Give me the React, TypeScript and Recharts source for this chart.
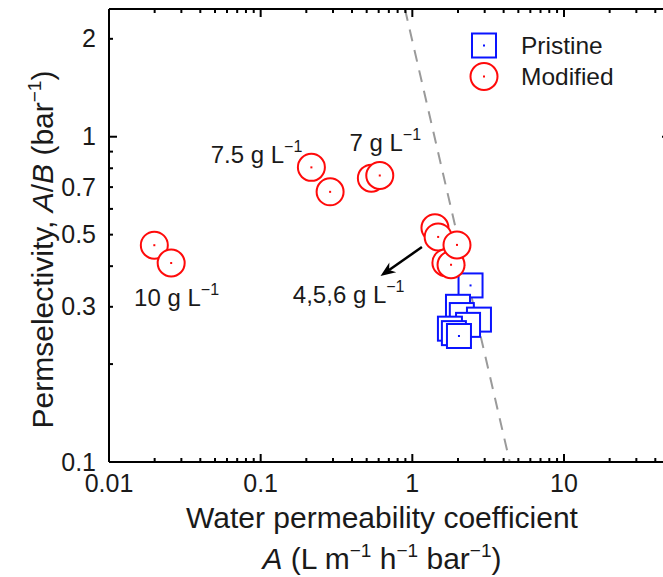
import React from 'react';
import { ScatterChart, Scatter, XAxis, YAxis, ReferenceLine, Legend } from 'recharts';

const FONT = '"Liberation Sans", Arial, Helvetica, sans-serif';
const TEXT = '#1a1a1a';
const BLUE = '#0a14ff';
const RED = '#ff0a0a';

// ---- data ----
const seriesNames = ['Pristine', 'Modified'];

const pristineA = [2.42, 2.0, 2.12, 2.75, 2.33, 1.77, 1.88, 2.03];
const pristineAB = [0.349, 0.3, 0.283, 0.274, 0.264, 0.257, 0.249, 0.244];

const modifiedA = [0.0199, 0.0257, 0.216, 0.287, 0.537, 0.61, 1.41, 1.48, 1.665, 1.8, 1.97];
const modifiedAB = [0.464, 0.409, 0.805, 0.677, 0.746, 0.76, 0.525, 0.492, 0.41, 0.404, 0.465];

const noteLabels = ['10 g L', '7.5 g L', '7 g L', '4,5,6 g L'];
const noteA = [0.01463, 0.0468, 0.385, 0.163];
const noteAB = [0.302, 0.832, 0.906, 0.308];

const tradeoffA = [0.894, 4.39];
const tradeoffAB = [2.47, 0.1];

const arrowA = [1.157, 0.617];
const arrowAB = [0.458, 0.373];

const xDomain = [0.01, 50];
const yDomain = [0.1, 2.47];

const xMajor = [0.01, 0.1, 1, 10];
const xLabels = ['0.01', '0.1', '1', '10'];
const xMinor = [
  0.02, 0.03, 0.04, 0.05, 0.06, 0.07, 0.08, 0.09,
  0.2, 0.3, 0.4, 0.5, 0.6, 0.7, 0.8, 0.9,
  2, 3, 4, 5, 6, 7, 8, 9,
  20, 30, 40,
];
const xTicks = [...xMajor, ...xMinor].sort((a, b) => a - b);

const yMajor = [0.1, 1];
const yLabeled = [0.1, 0.3, 0.5, 0.7, 1, 2];
const yLabels = ['0.1', '0.3', '0.5', '0.7', '1', '2'];
const yTicks = [0.1, 0.2, 0.3, 0.4, 0.5, 0.6, 0.7, 0.8, 0.9, 1, 2];

const pristineData = pristineA.map((a, i) => ({ x: a, y: pristineAB[i] }));
const modifiedData = modifiedA.map((a, i) => ({ x: a, y: modifiedAB[i] }));
const noteData = noteLabels.map((t, i) => ({ x: noteA[i], y: noteAB[i], label: t }));

const near = (arr: number[], v: number) => arr.findIndex((m) => Math.abs(m - v) < 1e-9);

// ---- marks ----
const SquareMark = ({ cx, cy }: any) => (
  <g>
    <rect x={cx - 12} y={cy - 12} width={24} height={24} fill="#fff" stroke={BLUE} strokeWidth={2} />
    <rect x={cx - 1} y={cy - 1} width={2} height={2} fill={BLUE} />
  </g>
);
const CircleMark = ({ cx, cy }: any) => (
  <g>
    <circle cx={cx} cy={cy} r={13.5} fill="#fff" stroke={RED} strokeWidth={2} />
    <rect x={cx - 1} y={cy - 1} width={2} height={2} fill={RED} />
  </g>
);

const NoteText = ({ cx, cy, payload }: any) => (
  <text x={cx} y={cy} fontSize={24} fontFamily={FONT} fill={TEXT}>
    {payload.label}
    <tspan dy={-11} fontSize={16}>{'\u22121'}</tspan>
  </text>
);

// ---- ticks ----
const BottomTick = (p: any) => {
  const v = p.payload.value;
  const i = near(xMajor, v);
  const len = i >= 0 ? 8 : 4;
  return (
    <g>
      <line x1={p.x} x2={p.x} y1={p.y} y2={p.y - len} stroke="#000" strokeWidth={2} />
      {i >= 0 && (
        <text x={p.x} y={p.y + 30} textAnchor="middle" fontSize={25} fontFamily={FONT} fill={TEXT}>
          {xLabels[i]}
        </text>
      )}
    </g>
  );
};
const TopTick = (p: any) => {
  const v = p.payload.value;
  const len = near(xMajor, v) >= 0 ? 8 : 4;
  return <line x1={p.x} x2={p.x} y1={p.y} y2={p.y + len} stroke="#000" strokeWidth={2} />;
};
const LeftTick = (p: any) => {
  const v = p.payload.value;
  const len = near(yMajor, v) >= 0 ? 8 : 4;
  const li = near(yLabeled, v);
  return (
    <g>
      <line x1={p.x} x2={p.x + len} y1={p.y} y2={p.y} stroke="#000" strokeWidth={2} />
      {li >= 0 && (
        <text x={p.x - 13} y={p.y + 8.5} textAnchor="end" fontSize={25} fontFamily={FONT} fill={TEXT}>
          {yLabels[li]}
        </text>
      )}
    </g>
  );
};
const RightTick = (p: any) => {
  const v = p.payload.value;
  const len = near(yMajor, v) >= 0 ? 8 : 4;
  return <line x1={p.x} x2={p.x - len} y1={p.y} y2={p.y} stroke="#000" strokeWidth={2} />;
};

// ---- titles ----
const XTitle = (props: any) => {
  const vb = props.viewBox || { x: 109, y: 462, width: 561, height: 115 };
  const cx = vb.x + vb.width / 2 - 7.5;
  return (
    <g fontFamily={FONT} fill={TEXT} fontSize={30}>
      <text x={cx} y={vb.y + 66} textAnchor="middle">Water permeability coefficient</text>
      <text x={cx} y={vb.y + 107} textAnchor="middle">
        <tspan fontStyle="italic">A</tspan>
        <tspan> (L m</tspan>
        <tspan dy={-12} fontSize={19}>{'\u22121'}</tspan>
        <tspan dy={12}> h</tspan>
        <tspan dy={-12} fontSize={19}>{'\u22121'}</tspan>
        <tspan dy={12}> bar</tspan>
        <tspan dy={-12} fontSize={19}>{'\u22121'}</tspan>
        <tspan dy={12}>)</tspan>
      </text>
    </g>
  );
};
const YTitle = (props: any) => {
  const vb = props.viewBox || { x: 0, y: 9, width: 109, height: 453 };
  const tx = vb.x + 53;
  const ty = vb.y + vb.height / 2 + 14;
  return (
    <text
      x={tx}
      y={ty}
      transform={`rotate(-90, ${tx}, ${ty})`}
      textAnchor="middle"
      fontFamily={FONT}
      fill={TEXT}
      fontSize={30}
    >
      <tspan>Permselectivity, </tspan>
      <tspan fontStyle="italic">A</tspan>
      <tspan>/</tspan>
      <tspan fontStyle="italic">B</tspan>
      <tspan> (bar</tspan>
      <tspan dy={-12} fontSize={19}>{'\u22121'}</tspan>
      <tspan dy={12}>)</tspan>
    </text>
  );
};

// ---- arrow ----
const ArrowShape = (p: any) => {
  const { x1, y1, x2, y2 } = p;
  if ([x1, y1, x2, y2].some((v) => typeof v !== 'number' || isNaN(v))) return <g />;
  const dx = x2 - x1;
  const dy = y2 - y1;
  const L = Math.sqrt(dx * dx + dy * dy) || 1;
  const ux = dx / L;
  const uy = dy / L;
  const px = -uy;
  const py = ux;
  const hl = 15;
  const hw = 6;
  const bx = x2 - ux * hl;
  const by = y2 - uy * hl;
  const nx = x2 - ux * hl * 0.7;
  const ny = y2 - uy * hl * 0.7;
  return (
    <g>
      <line x1={x1} y1={y1} x2={nx} y2={ny} stroke="#000" strokeWidth={2.5} />
      <polygon
        points={`${x2},${y2} ${bx + px * hw},${by + py * hw} ${nx},${ny} ${bx - px * hw},${by - py * hw}`}
        fill="#000"
      />
    </g>
  );
};

const LegendContent = (props: any) => {
  const items = (props.payload || [])
    .filter((it: any) => seriesNames.includes(it.value))
    .sort((a: any, b: any) => seriesNames.indexOf(a.value) - seriesNames.indexOf(b.value));
  return (
    <div style={{ position: 'relative', width: 170, height: 62, fontFamily: FONT }}>
      {items.map((it: any, i: number) => (
        <div
          key={it.value}
          style={{ position: 'absolute', left: 0, top: i * 31, height: 31, display: 'flex', alignItems: 'center', whiteSpace: 'nowrap' }}
        >
          <svg width={30} height={31} style={{ display: 'block' }}>
            {it.value === seriesNames[0] ? <SquareMark cx={15} cy={15.5} /> : <CircleMark cx={15} cy={15.5} />}
          </svg>
          <span style={{ marginLeft: 22, fontSize: 24.5, lineHeight: '31px', color: TEXT }}>{it.value}</span>
        </div>
      ))}
    </div>
  );
};

export default function App() {
  return (
    <div style={{ position: 'absolute', left: 0, top: 0, width: 663, height: 577, overflow: 'hidden', background: '#fff' }}>
      <ScatterChart width={680} height={577} margin={{ top: 8, right: 9, bottom: 0, left: 0 }}>
        <XAxis
          xAxisId="b"
          dataKey="x"
          type="number"
          scale="log"
          domain={xDomain}
          allowDataOverflow
          ticks={xTicks}
          interval={0}
          tickSize={0}
          tickMargin={0}
          tickLine={false}
          tick={<BottomTick />}
          axisLine={{ stroke: '#000', strokeWidth: 2 }}
          height={115}
          label={<XTitle />}
        />
        <XAxis
          xAxisId="t"
          orientation="top"
          dataKey="x"
          type="number"
          scale="log"
          domain={xDomain}
          allowDataOverflow
          ticks={xTicks}
          interval={0}
          tickSize={0}
          tickMargin={0}
          tickLine={false}
          tick={<TopTick />}
          axisLine={{ stroke: '#000', strokeWidth: 2 }}
          height={1}
        />
        <YAxis
          yAxisId="l"
          dataKey="y"
          type="number"
          scale="log"
          domain={yDomain}
          allowDataOverflow
          ticks={yTicks}
          interval={0}
          tickSize={0}
          tickMargin={0}
          tickLine={false}
          tick={<LeftTick />}
          axisLine={{ stroke: '#000', strokeWidth: 2 }}
          width={109}
          label={<YTitle />}
        />
        <YAxis
          yAxisId="r"
          orientation="right"
          dataKey="y"
          type="number"
          scale="log"
          domain={yDomain}
          allowDataOverflow
          ticks={yTicks}
          interval={0}
          tickSize={0}
          tickMargin={0}
          tickLine={false}
          tick={<RightTick />}
          axisLine={{ stroke: '#000', strokeWidth: 2 }}
          width={1}
        />
        <Legend
          layout="vertical"
          align="center"
          verticalAlign="middle"
          wrapperStyle={{ left: 469, top: 30, width: 170 }}
          content={<LegendContent />}
        />
        <Scatter
          name="annotations"
          xAxisId="b"
          yAxisId="l"
          data={noteData}
          legendType="none"
          shape={<NoteText />}
          isAnimationActive={false}
        />
        <Scatter
          name={seriesNames[0]}
          xAxisId="b"
          yAxisId="l"
          data={pristineData}
          shape={<SquareMark />}
          legendType="square"
          isAnimationActive={false}
        />
        <Scatter
          name={seriesNames[1]}
          xAxisId="b"
          yAxisId="l"
          data={modifiedData}
          shape={<CircleMark />}
          legendType="circle"
          isAnimationActive={false}
        />
        <ReferenceLine
          xAxisId="b"
          yAxisId="l"
          ifOverflow="visible"
          segment={[
            { x: tradeoffA[0], y: tradeoffAB[0] },
            { x: tradeoffA[1], y: tradeoffAB[1] },
          ]}
          stroke="#9a9a9a"
          strokeWidth={2}
          strokeDasharray="12 9"
        />
        <ReferenceLine
          xAxisId="b"
          yAxisId="l"
          ifOverflow="visible"
          segment={[
            { x: arrowA[0], y: arrowAB[0] },
            { x: arrowA[1], y: arrowAB[1] },
          ]}
          shape={ArrowShape}
        />
      </ScatterChart>
    </div>
  );
}
